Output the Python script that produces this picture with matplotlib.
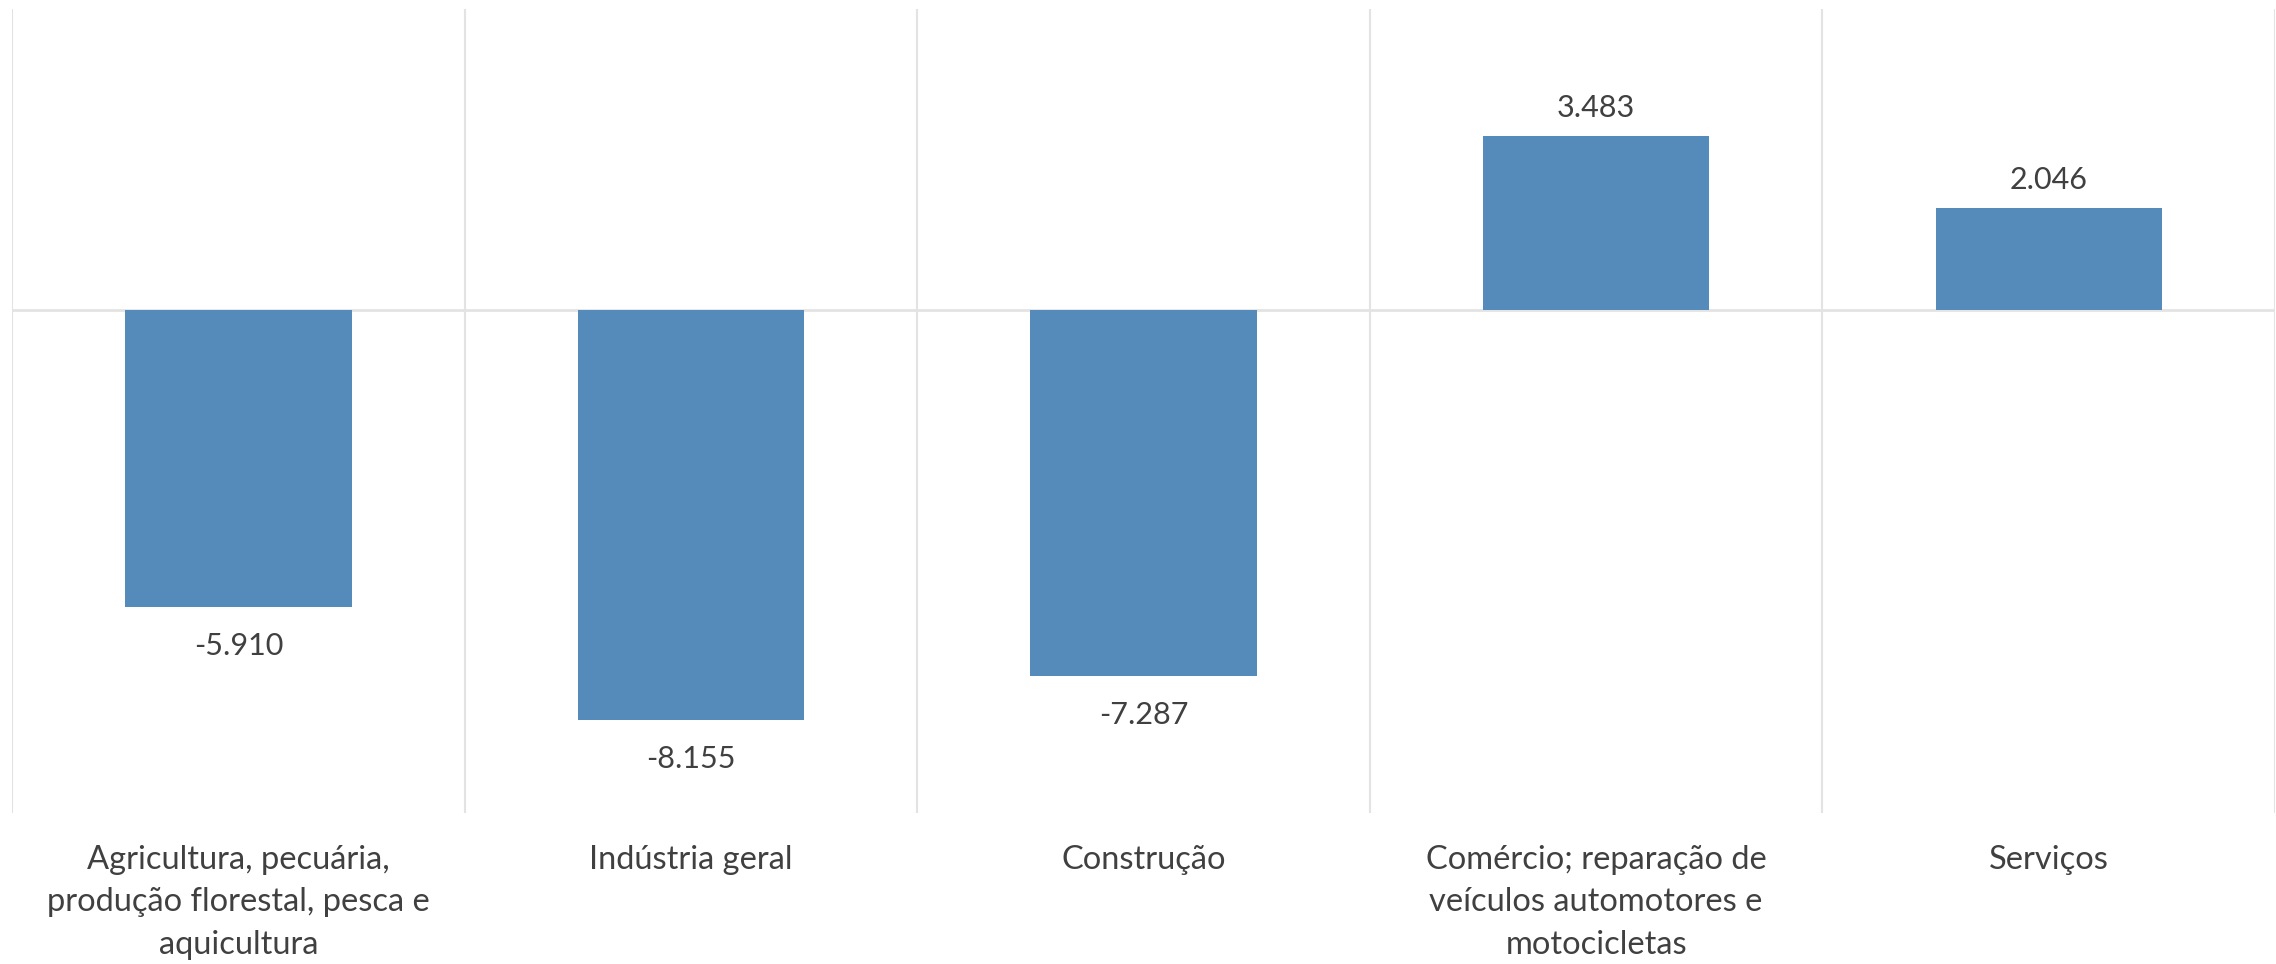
"""
Saldo por grande setor: bar chart with data labels, Excel-like styling.
"""

import matplotlib
matplotlib.use("Agg")  # render to file, no display
import matplotlib.pyplot as plt  # noqa: E402

# ---------------------------------------------------------------------------
# Data
# ---------------------------------------------------------------------------
CATEGORIES = [
    "Agricultura, pecuária,\nprodução florestal, pesca e\naquicultura",
    "Indústria geral",
    "Construção",
    "Comércio; reparação de\nveículos automotores e\nmotocicletas",
    "Serviços",
]
VALUES = [-5910, -8155, -7287, 3483, 2046]

# ---------------------------------------------------------------------------
# Style
# ---------------------------------------------------------------------------
BAR_COLOR = "#558BBA"
GRID_COLOR = "#E3E3E3"
TEXT_COLOR = "#404040"
FONT = ["Lato", "DejaVu Sans"]


def _fmt(v: int) -> str:
    """Brazilian thousands separator: -5910 -> -5.910"""
    return f"{v:,}".replace(",", ".")


def main() -> None:
    plt.rcParams["font.family"] = FONT

    fig = plt.figure(figsize=(22.76, 9.64), dpi=100)
    ax = fig.add_axes([0.0053, 0.157, 0.9943, 0.8335])

    x = list(range(len(VALUES)))
    ax.bar(x, VALUES, width=0.5, color=BAR_COLOR, zorder=3)

    ax.set_xlim(-0.5, len(VALUES) - 0.5)
    ax.set_ylim(-10000, 6000)

    # --- Grid: category boundaries + zero line ----------------------------
    for b in range(len(VALUES) + 1):
        ax.axvline(b - 0.5, color=GRID_COLOR, linewidth=1.5, zorder=1)
    ax.axhline(0, color=GRID_COLOR, linewidth=2, zorder=2)

    for s in ax.spines.values():
        s.set_visible(False)
    ax.set_yticks([])

    # --- Category labels ----------------------------------------------------
    ax.set_xticks(x)
    ax.set_xticklabels(CATEGORIES, fontsize=23.5, color=TEXT_COLOR,
                       linespacing=1.52)
    ax.tick_params(axis="x", length=0, pad=23)

    # --- Data labels --------------------------------------------------------
    for xi, v in zip(x, VALUES):
        off = 20 if v >= 0 else -28
        ax.annotate(_fmt(v), xy=(xi, v), xytext=(0, off),
                    textcoords="offset points", ha="center", va="center",
                    fontsize=22, color=TEXT_COLOR)

    fig.savefig("out.png", dpi=100, facecolor="white")
    plt.close(fig)


if __name__ == "__main__":
    main()
